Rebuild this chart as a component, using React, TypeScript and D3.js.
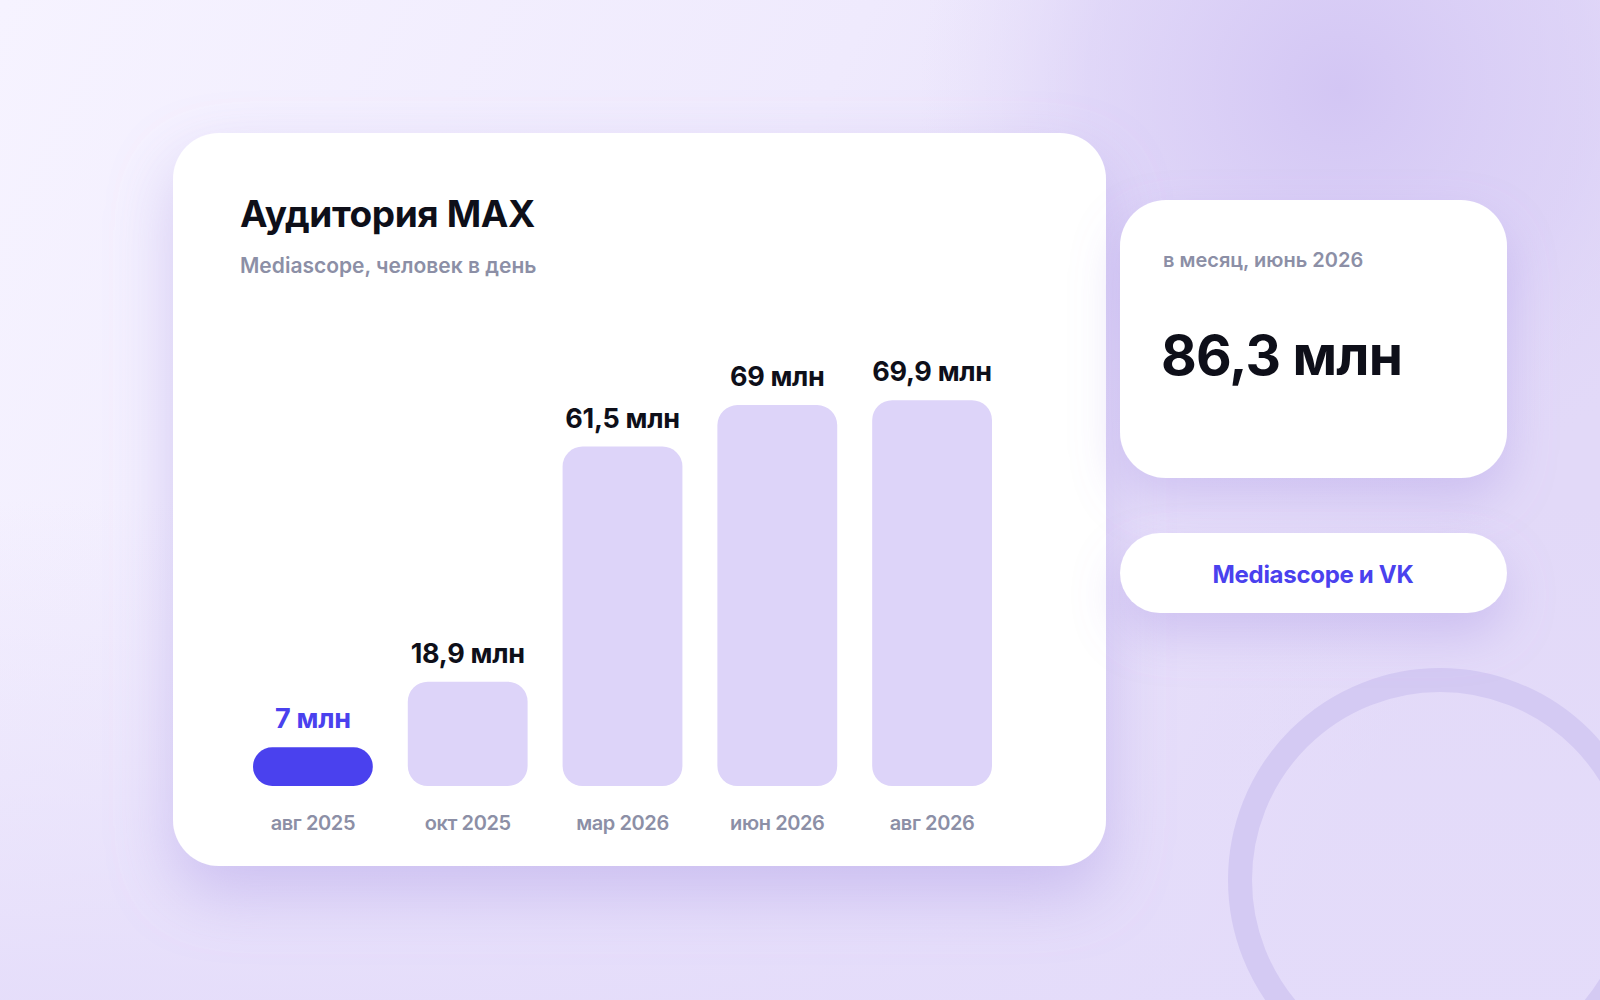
import React from "react";
import * as d3 from "d3";

// data
const months = ["авг 2025", "окт 2025", "мар 2026", "июн 2026", "авг 2026"];
const audience = [7, 18.9, 61.5, 69, 69.9];
const valueLabels = ["7 млн", "18,9 млн", "61,5 млн", "69 млн", "69,9 млн"];
const highlightIndex = 0;

const monthlyLabel = "в месяц, июнь 2026";
const monthlyValue = "86,3 млн";
const sourceLabel = "Mediascope и VK";

const W = 1600;
const H = 1000;
const FONT = "Inter, 'Noto Sans', 'Liberation Sans', sans-serif";

const App: React.FC = () => {
  const baseline = 786;

  const x = d3
    .scaleBand<string>()
    .domain(months)
    .range([253, 992])
    .paddingInner(0.226)
    .paddingOuter(0);

  const y = d3.scaleLinear().domain([0, 70]).range([baseline, baseline - 386.4]);

  const barPath = (x0: number, top: number, w: number, bottom: number) => {
    const h = bottom - top;
    const r = Math.min(20, h / 2, w / 2);
    const p = d3.path();
    p.moveTo(x0 + r, top);
    p.lineTo(x0 + w - r, top);
    p.arcTo(x0 + w, top, x0 + w, top + r, r);
    p.lineTo(x0 + w, bottom - r);
    p.arcTo(x0 + w, bottom, x0 + w - r, bottom, r);
    p.lineTo(x0 + r, bottom);
    p.arcTo(x0, bottom, x0, bottom - r, r);
    p.lineTo(x0, top + r);
    p.arcTo(x0, top, x0 + r, top, r);
    p.closePath();
    return p.toString();
  };

  return (
    <div style={{ position: "absolute", left: 0, top: 0 }}>
      <svg width={W} height={H} style={{ display: "block" }}>
        <defs>
          <linearGradient id="bg" x1="0" y1="0" x2="1" y2="0.3">
            <stop offset="0" stopColor="#f6f3ff" />
            <stop offset="0.5" stopColor="#efeafd" />
            <stop offset="1" stopColor="#e2d9f8" />
          </linearGradient>
          <radialGradient id="blob" cx="1340" cy="90" r="420" gradientUnits="userSpaceOnUse">
            <stop offset="0" stopColor="#d3c6f4" stopOpacity="1" />
            <stop offset="0.6" stopColor="#d9cef6" stopOpacity="0.6" />
            <stop offset="1" stopColor="#e2d9f8" stopOpacity="0" />
          </radialGradient>
          <linearGradient id="bottomShade" x1="0" y1="0" x2="0" y2="1">
            <stop offset="0" stopColor="#e6defa" stopOpacity="0" />
            <stop offset="1" stopColor="#e4dcfa" stopOpacity="0.9" />
          </linearGradient>
          <filter id="cardShadow" filterUnits="userSpaceOnUse" x="0" y="0" width={W} height={H}>
            <feDropShadow dx="0" dy="28" stdDeviation="32" floodColor="#9f87e0" floodOpacity="0.38" />
          </filter>
          <filter id="sideShadow" filterUnits="userSpaceOnUse" x="0" y="0" width={W} height={H}>
            <feDropShadow dx="0" dy="22" stdDeviation="24" floodColor="#9f87e0" floodOpacity="0.32" />
          </filter>
        </defs>

        {/* background */}
        <rect x={0} y={0} width={W} height={H} fill="url(#bg)" />
        <rect x={0} y={500} width={W} height={500} fill="url(#bottomShade)" />
        <rect x={0} y={0} width={W} height={H} fill="url(#blob)" />
        <circle cx={1440} cy={880} r={200} fill="none" stroke="#d4caf3" strokeWidth={24} />

        {/* main card */}
        <rect x={173} y={133} width={933} height={733} rx={46} fill="#fff" filter="url(#cardShadow)" />
        <text x={240} y={227} fontFamily={FONT} fontWeight={700} fontSize={37} fill="#0e0f19" letterSpacing={-0.4}>
          Аудитория MAX
        </text>
        <text x={240} y={273} fontFamily={FONT} fontWeight={600} fontSize={21} fill="#8c8fa6">
          Mediascope, человек в день
        </text>

        {audience.map((v, i) => {
          const bx = x(months[i]) || 0;
          const top = y(v);
          const hl = i === highlightIndex;
          return (
            <g key={months[i]}>
              <path d={barPath(bx, top, x.bandwidth(), baseline)} fill={hl ? "#4a41ee" : "#ddd4f9"} />
              <text
                x={bx + x.bandwidth() / 2}
                y={top - 19}
                textAnchor="middle"
                fontFamily={FONT}
                fontWeight={700}
                fontSize={27}
                letterSpacing={-0.3}
                fill={hl ? "#4a41ee" : "#0e0f19"}
              >
                {valueLabels[i]}
              </text>
              <text
                x={bx + x.bandwidth() / 2}
                y={830}
                textAnchor="middle"
                fontFamily={FONT}
                fontWeight={600}
                fontSize={20}
                letterSpacing={-0.4}
                fill="#8c8fa6"
              >
                {months[i]}
              </text>
            </g>
          );
        })}

        {/* side card */}
        <rect x={1120} y={200} width={387} height={278} rx={46} fill="#fff" filter="url(#sideShadow)" />
        <text x={1163} y={267} fontFamily={FONT} fontWeight={600} fontSize={20} fill="#8c8fa6">
          {monthlyLabel}
        </text>
        <text x={1161} y={375} fontFamily={FONT} fontWeight={700} fontSize={55} letterSpacing={-0.8} fill="#0e0f19">
          {monthlyValue}
        </text>

        {/* source pill */}
        <rect x={1120} y={533} width={387} height={80} rx={40} fill="#fff" filter="url(#sideShadow)" />
        <text
          x={1313}
          y={583}
          textAnchor="middle"
          fontFamily={FONT}
          fontWeight={700}
          fontSize={24}
          letterSpacing={-0.3}
          fill="#4a41ee"
        >
          {sourceLabel}
        </text>
      </svg>
    </div>
  );
};

export default App;
